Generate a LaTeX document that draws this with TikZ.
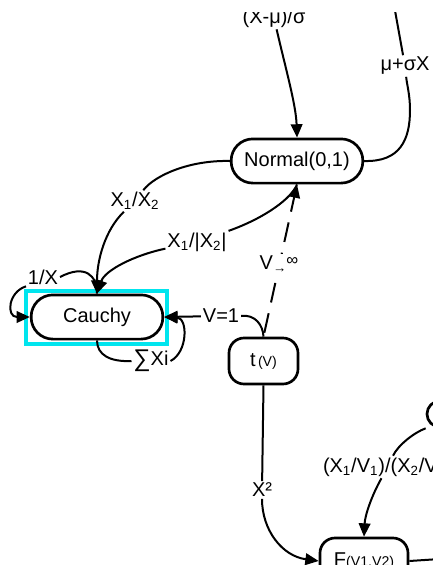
\documentclass[tikz,border=0pt]{standalone}
\usepackage{fontspec}
\setmainfont{Liberation Sans}
\usetikzlibrary{arrows.meta}
\definecolor{markcyan}{HTML}{00E5EE}

\begin{document}
\begin{tikzpicture}[x=0.6pt,y=0.6pt]

\tikzset{
distnode/.style={
draw=black,
line width=1.6pt,
rounded corners=13pt,
minimum width=79pt,
minimum height=26.5pt,
inner sep=0pt,
font=\fontsize{12}{14}\selectfont
},
distsmall/.style={
draw=black,
line width=1.6pt,
rounded corners=9pt,
minimum height=27.6pt,
inner sep=0pt,
font=\fontsize{12}{14}\selectfont
},
edgelabel/.style={
fill=white,
inner sep=1pt,
font=\fontsize{12}{14}\selectfont
},
arr/.style={
line width=1.2pt,
-{Triangle[length=8pt,width=7pt]}
},
plain/.style={
line width=1.2pt
}
}

\useasboundingbox (0,0) rectangle (433,-565);
\clip (0,-12) rectangle (433,-565);

%--------------------------------------------------
% DISTRIBUTIONS
%--------------------------------------------------

\node[distnode] (normal) at (297,-161) {Normal(0,1)};
\node[distnode] (cauchy) at (97,-317) {Cauchy};
\node[distsmall,minimum width=41.4pt] (tnode) at (263.5,-361)
  {t{\fontsize{8.5}{10}\selectfont\,(V)}};
\node[distsmall,minimum width=52.8pt] (fnode) at (364,-561)
  {F{\fontsize{8.5}{10}\selectfont(V1,V2)}};
\node[distsmall,rounded corners=7.8pt,minimum width=48pt,minimum height=15.6pt]
  (rnode) at (467,-414) {};

\draw[markcyan,line width=2.4pt] (26,-291) rectangle (167,-344);

%--------------------------------------------------
% LABELS
%--------------------------------------------------

\node[edgelabel] (xmu) at (274,-18) {(X-μ)/σ};
\node[edgelabel] (musig) at (405,-66) {μ+σX};
\node[edgelabel] (x12) at (135,-201) {X\textsubscript{1}/X\textsubscript{2}};
\node[edgelabel] (x1abs) at (197,-242) {X\textsubscript{1}/|X\textsubscript{2}|};
\node[edgelabel] (onex) at (43,-277) {1/X};
\node[edgelabel] (sumxi) at (151,-361)
  {\raisebox{-1pt}{\fontsize{14.5}{16}\selectfont ∑}Xi};
\node[edgelabel] (veq) at (221,-316) {V=1};
\node[edgelabel] (xsq) at (262,-490) {X²};
\node[edgelabel,anchor=west] (fratio) at (321,-467)
  {(X\textsubscript{1}/V\textsubscript{1})/(X\textsubscript{2}/V\textsubscript{2})};

\coordinate (src2) at (394,-5);
\coordinate (fout) at (440,-559);

%--------------------------------------------------
% TRANSFORMS
%--------------------------------------------------

\draw[arr] (xmu) .. controls (286,-70) and (296,-105) .. (normal.north);

\draw[plain] (normal.east) .. controls (400,-162) and (410,-140) .. (410,-110)
  .. controls (410,-95) and (407,-85) .. (musig);
\draw[plain] (musig) -- (src2);

\draw[plain] (normal.west) .. controls (190,-160) and (155,-175) .. (x12);
\draw[arr] (x12) .. controls (105,-230) and (97,-260) .. (cauchy.north);

\draw[plain] (normal.south) .. controls (292,-198) and (265,-218) .. (x1abs);
\draw[arr] (x1abs) .. controls (135,-255) and (105,-270) .. (cauchy.north);

% self loops on cauchy
\draw[plain] (cauchy.north) .. controls (97,-275) and (85,-264) .. (onex.east);
\draw[arr] (onex.south west) .. controls (8,-292) and (6,-317) .. (cauchy.west);

\draw[plain] (cauchy.south) .. controls (97,-355) and (110,-362) .. (sumxi.west);
\draw[arr] (sumxi.east) .. controls (188,-352) and (188,-318) .. (cauchy.east);

\draw[plain] (tnode.north) .. controls (263,-325) and (255,-314) .. (veq.east);
\draw[arr] (veq) -- (cauchy.east);

% limit, dashed
\draw[arr,dash pattern=on 12pt off 6.6pt,dash phase=16.2pt]
  (tnode.north) -- (normal.south);
\node[edgelabel] (vinf) at (279,-264)
  {V\raisebox{-2pt}{\fontsize{8}{9}\selectfont→}\raisebox{2pt}{\fontsize{10}{11}\selectfont ∞}};

\draw[plain] (tnode.south) -- (xsq);
\draw[arr] (xsq) .. controls (262,-530) and (282,-556) .. (fnode.west);

\draw[plain] (rnode.south west) .. controls (415,-432) and (398,-445) .. (fratio);
\draw[arr] (fratio) .. controls (372,-495) and (365,-515) .. (fnode.north);

\draw[plain] (fnode.east) -- (fout);

\end{tikzpicture}
\end{document}
